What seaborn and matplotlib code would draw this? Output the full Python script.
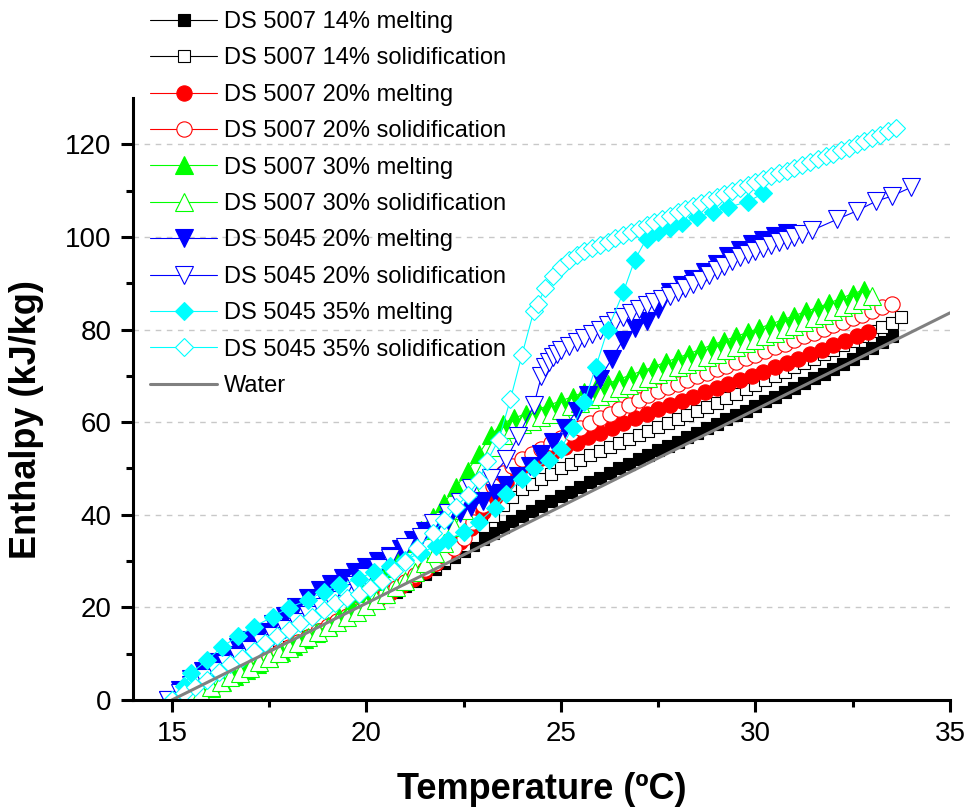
import matplotlib
matplotlib.use("Agg")
import matplotlib.pyplot as plt
import seaborn as sns

# shared temperature grid (0.25 degC steps)
t_grid = [15.25, 15.5, 15.75, 16.0, 16.25, 16.5, 16.75, 17.0, 17.25, 17.5,
          17.75, 18.0, 18.25, 18.5, 18.75, 19.0, 19.25, 19.5, 19.75, 20.0,
          20.25, 20.5, 20.75, 21.0, 21.25, 21.5, 21.75, 22.0, 22.25, 22.5,
          22.75, 23.0, 23.25, 23.5, 23.75, 24.0, 24.25, 24.5, 24.75, 25.0,
          25.25, 25.5, 25.75, 26.0, 26.25, 26.5, 26.75, 27.0, 27.25, 27.5,
          27.75, 28.0, 28.25, 28.5, 28.75, 29.0, 29.25, 29.5, 29.75, 30.0,
          30.25, 30.5, 30.75, 31.0, 31.25, 31.5, 31.75, 32.0, 32.25, 32.5,
          32.75, 33.0, 33.25, 33.5]

# DS 5007 14% melting
t_5007_14_mel = t_grid
h_5007_14_mel = [0.0, 0.9, 1.9, 2.8, 3.9, 4.9, 6.0, 7.0, 8.1, 9.1,
                 10.2, 11.3, 12.4, 13.4, 14.5, 15.6, 16.7, 17.8, 18.9, 20.0,
                 21.1, 22.3, 23.4, 24.6, 25.8, 27.1, 28.3, 29.6, 30.9, 32.2,
                 33.5, 34.8, 36.1, 37.3, 38.6, 39.8, 40.9, 41.9, 43.0, 44.0,
                 45.0, 46.0, 47.0, 48.0, 49.0, 50.0, 51.0, 52.0, 52.9, 53.9,
                 54.8, 55.8, 56.8, 57.7, 58.7, 59.6, 60.6, 61.6, 62.5, 63.5,
                 64.5, 65.5, 66.4, 67.4, 68.4, 69.5, 70.5, 71.5, 72.6, 73.7,
                 74.9, 76.0, 77.3, 78.5]

# DS 5007 14% solidification
t_5007_14_sol = t_grid + [33.75]
h_5007_14_sol = [0.0, 0.9, 2.0, 3.0, 4.0, 5.1, 6.2, 7.2, 8.3, 9.4,
                 10.4, 11.5, 12.6, 13.7, 14.7, 15.8, 16.9, 18.0, 19.1, 20.2,
                 21.4, 22.6, 23.8, 25.0, 26.3, 27.6, 28.9, 30.2, 31.8, 33.5,
                 35.5, 37.5, 39.8, 42.0, 43.9, 45.5, 46.7, 47.8, 48.9, 50.0,
                 51.0, 51.9, 52.9, 53.8, 54.7, 55.5, 56.4, 57.2, 58.1, 58.9,
                 59.8, 60.6, 61.5, 62.4, 63.3, 64.2, 65.2, 66.1, 67.1, 68.0,
                 69.0, 69.9, 70.9, 71.8, 72.8, 73.7, 74.7, 75.6, 76.6, 77.6,
                 78.6, 79.6, 80.5, 81.5, 82.6]

# DS 5007 20% melting
t_5007_20_mel = [15.2, 15.5, 15.8, 16.1, 16.4, 16.7, 17.0, 17.3, 17.6, 17.9,
                 18.2, 18.5, 18.8, 19.1, 19.4, 19.7, 20.0, 20.3, 20.6, 20.9,
                 21.2, 21.5, 21.8, 22.1, 22.4, 22.7, 23.0, 23.3, 23.6, 23.9,
                 24.2, 24.5, 24.8, 25.1, 25.4, 25.7, 26.0, 26.3, 26.6, 26.9,
                 27.2, 27.5, 27.8, 28.1, 28.4, 28.7, 29.0, 29.3, 29.6, 29.9,
                 30.2, 30.5, 30.8, 31.1, 31.4, 31.7, 32.0, 32.3, 32.6, 32.9]
h_5007_20_mel = [0.0, 0.8, 2.0, 3.2, 4.5, 5.7, 7.0, 8.3, 9.6, 10.9,
                 12.2, 13.5, 14.8, 16.2, 17.5, 18.9, 20.3, 21.8, 23.2, 24.7,
                 26.2, 27.8, 29.6, 31.6, 34.1, 37.2, 40.5, 43.8, 46.8, 49.2,
                 50.8, 52.3, 53.5, 54.6, 55.6, 56.7, 57.7, 58.7, 59.8, 60.8,
                 61.8, 62.8, 63.7, 64.6, 65.5, 66.4, 67.3, 68.2, 69.1, 70.0,
                 70.9, 71.8, 72.8, 73.7, 74.7, 75.6, 76.6, 77.5, 78.5, 79.4]

# DS 5007 20% solidification
t_5007_20_sol = t_grid
h_5007_20_sol = [0.0, 1.0, 2.0, 3.0, 4.1, 5.1, 6.2, 7.2, 8.3, 9.4,
                 10.4, 11.5, 12.6, 13.7, 14.8, 15.9, 17.0, 18.2, 19.3, 20.5,
                 21.7, 23.0, 24.2, 25.5, 26.9, 28.2, 29.6, 31.0, 32.9, 35.0,
                 38.5, 42.0, 46.2, 49.0, 50.6, 52.0, 53.2, 54.3, 55.4, 56.5,
                 57.6, 58.7, 59.8, 60.8, 61.8, 62.8, 63.8, 64.8, 65.8, 66.8,
                 67.6, 68.3, 69.1, 69.9, 70.6, 71.4, 72.2, 73.0, 73.8, 74.6,
                 75.4, 76.2, 76.9, 77.7, 78.5, 79.3, 80.1, 80.9, 81.6, 82.4,
                 83.2, 84.0, 84.8, 85.6]

# DS 5007 30% melting
t_5007_30_mel = [15.4, 15.7, 16.0, 16.3, 16.6, 16.9, 17.2, 17.5, 17.8, 18.1,
                 18.4, 18.7, 19.0, 19.3, 19.6, 19.9, 20.2, 20.5, 20.8, 21.1,
                 21.4, 21.7, 22.0, 22.3, 22.6, 22.9, 23.2, 23.5, 23.8, 24.1,
                 24.4, 24.7, 25.0, 25.3, 25.6, 25.9, 26.2, 26.5, 26.8, 27.1,
                 27.4, 27.7, 28.0, 28.3, 28.6, 28.9, 29.2, 29.5, 29.8, 30.1,
                 30.4, 30.7, 31.0, 31.3, 31.6, 31.9, 32.2, 32.5, 32.8]
h_5007_30_mel = [0.0, 1.2, 2.5, 3.8, 5.1, 6.4, 7.7, 9.0, 10.3, 11.7,
                 13.1, 14.5, 16.0, 18.0, 20.4, 23.1, 25.8, 28.5, 31.2, 33.9,
                 36.6, 39.5, 42.6, 45.9, 49.5, 53.2, 57.2, 59.7, 60.9, 61.8,
                 62.7, 63.7, 64.6, 65.5, 66.5, 67.4, 68.3, 69.3, 70.2, 71.1,
                 72.0, 73.0, 73.9, 74.8, 75.8, 76.7, 77.6, 78.5, 79.4, 80.3,
                 81.2, 82.1, 83.0, 83.9, 84.8, 85.7, 86.8, 87.7, 88.6]

# DS 5007 30% solidification
t_5007_30_sol = t_grid[:72]
h_5007_30_sol = [0.0, 0.9, 1.8, 2.8, 3.8, 4.9, 5.9, 7.0, 8.1, 9.1,
                 10.2, 11.3, 12.4, 13.5, 14.6, 15.7, 16.8, 18.0, 19.1, 20.3,
                 21.5, 22.8, 24.3, 25.8, 27.6, 29.5, 31.7, 34.0, 37.3, 41.0,
                 45.5, 50.0, 54.6, 57.3, 58.6, 59.5, 60.3, 61.1, 61.8, 62.6,
                 63.4, 64.2, 64.9, 65.7, 66.5, 67.3, 68.0, 68.8, 69.6, 70.3,
                 71.1, 71.8, 72.6, 73.3, 74.1, 74.8, 75.6, 76.3, 77.1, 77.8,
                 78.6, 79.3, 80.1, 80.8, 81.6, 82.4, 83.2, 84.0, 84.8, 85.6,
                 86.4, 87.2]

# DS 5045 20% melting
t_5045_20_mel = [14.9, 15.2, 15.5, 15.8, 16.1, 16.4, 16.7, 17.0, 17.3, 17.6,
                 17.9, 18.2, 18.5, 18.8, 19.1, 19.4, 19.7, 20.0, 20.3, 20.6,
                 20.9, 21.2, 21.5, 21.8, 22.1, 22.4, 22.7, 23.0, 23.3, 23.6,
                 23.9, 24.2, 24.5, 24.8, 25.1, 25.4, 25.7, 26.0, 26.3, 26.6,
                 26.9, 27.2, 27.5, 27.8, 28.1, 28.4, 28.7, 29.0, 29.3, 29.6,
                 29.9, 30.2, 30.5, 30.8]
h_5045_20_mel = [0.0, 2.2, 4.5, 6.3, 8.1, 9.8, 11.4, 13.0, 14.7, 16.4,
                 18.2, 20.1, 22.0, 23.7, 25.1, 26.4, 27.6, 28.8, 30.0, 31.2,
                 32.6, 34.6, 36.5, 37.8, 38.9, 40.3, 41.7, 43.0, 44.6, 46.4,
                 48.3, 50.6, 53.2, 55.7, 58.8, 62.4, 65.9, 69.4, 73.6, 77.8,
                 80.3, 81.8, 84.5, 88.0, 89.6, 91.0, 92.5, 94.2, 95.8, 97.2,
                 98.5, 99.4, 100.2, 100.9]

# DS 5045 20% solidification
t_5045_20_sol = [14.9, 15.2, 15.5, 15.8, 16.1, 16.4, 16.7, 17.0, 17.3, 17.6,
                 17.9, 18.2, 18.5, 18.8, 19.1, 19.4, 19.7, 20.0, 20.3, 20.6,
                 21.0, 21.4, 21.7, 22.1, 22.4, 22.7, 23.2, 23.6, 23.9, 24.3,
                 24.5, 24.6, 24.7, 24.8, 24.9, 25.0, 25.2, 25.4, 25.6, 25.8,
                 26.0, 26.2, 26.4, 26.6, 26.8, 27.0, 27.2, 27.4, 27.6, 27.8,
                 28.0, 28.2, 28.4, 28.6, 28.8, 29.0, 29.2, 29.4, 29.6, 29.8,
                 30.0, 30.2, 30.4, 30.6, 30.8, 31.0, 31.2, 31.45, 32.1, 32.6,
                 33.1, 33.5, 34.0]
h_5045_20_sol = [0.0, 1.6, 3.2, 4.7, 6.2, 7.7, 9.2, 10.7, 12.2, 13.8,
                 15.3, 16.9, 18.4, 20.0, 21.6, 23.2, 24.8, 26.5, 28.5, 30.6,
                 33.1, 35.3, 38.2, 40.4, 42.8, 45.8, 48.0, 52.0, 56.9, 63.6,
                 70.0, 72.0, 73.0, 74.0, 74.8, 75.5, 76.4, 77.3, 78.2, 79.1,
                 80.0, 80.9, 81.8, 82.7, 83.6, 84.5, 85.2, 85.9, 86.6, 87.3,
                 88.0, 88.9, 89.8, 90.8, 91.8, 92.8, 93.8, 94.8, 95.6, 96.3,
                 97.0, 97.6, 98.2, 98.8, 99.4, 100.0, 100.6, 101.4, 103.8, 105.6,
                 107.7, 108.8, 110.7]

# DS 5045 35% melting
t_5045_35_mel = [15.0, 15.3, 15.5, 15.9, 16.3, 16.7, 17.1, 17.6, 18.0, 18.5,
                 18.9, 19.3, 19.8, 20.2, 20.6, 21.0, 21.4, 21.8, 22.1, 22.5,
                 22.9, 23.3, 23.6, 24.0, 24.3, 24.7, 25.0, 25.3, 25.6, 25.9,
                 26.2, 26.6, 26.9, 27.2, 27.5, 27.8, 28.1, 28.5, 28.9, 29.3,
                 29.8, 30.2]
h_5045_35_mel = [0.0, 3.0, 5.8, 8.6, 11.5, 13.8, 15.8, 18.0, 19.9, 21.6,
                 23.4, 24.9, 26.2, 27.7, 29.0, 30.3, 31.8, 33.3, 34.6, 36.3,
                 38.5, 41.5, 44.5, 47.8, 50.0, 51.8, 54.3, 58.8, 64.4, 72.0,
                 80.0, 88.0, 95.1, 99.6, 101.0, 102.0, 103.0, 104.2, 105.3, 106.4,
                 107.6, 109.4]

# DS 5045 35% solidification
t_5045_35_sol = [15.0, 15.3, 15.6, 15.9, 16.2, 16.5, 16.8, 17.1, 17.4, 17.7,
                 18.0, 18.3, 18.6, 18.9, 19.2, 19.5, 19.8, 20.1, 20.4, 20.7,
                 21.0, 21.3, 21.7, 22.0, 22.3, 22.6, 22.9, 23.1, 23.4, 23.7,
                 24.0, 24.3, 24.4, 24.6, 24.8, 25.0, 25.2, 25.4, 25.6, 25.8,
                 26.0, 26.2, 26.4, 26.6, 26.8, 27.0, 27.2, 27.4, 27.6, 27.8,
                 28.0, 28.2, 28.4, 28.6, 28.8, 29.0, 29.2, 29.4, 29.6, 29.8,
                 30.0, 30.2, 30.4, 30.6, 30.8, 31.0, 31.2, 31.4, 31.6, 31.8,
                 32.0, 32.2, 32.4, 32.6, 32.8, 33.0, 33.2, 33.4, 33.6]
h_5045_35_sol = [0.0, 1.5, 2.9, 4.3, 6.1, 7.7, 9.1, 10.6, 12.4, 13.9,
                 15.1, 16.6, 18.0, 19.5, 21.0, 22.0, 22.9, 24.2, 25.8, 27.8,
                 29.8, 32.8, 36.0, 38.9, 41.7, 44.2, 47.5, 51.5, 56.2, 64.9,
                 74.6, 83.9, 85.6, 88.9, 91.6, 93.6, 95.0, 96.0, 96.9, 97.6,
                 98.3, 99.0, 99.7, 100.4, 101.1, 101.8, 102.5, 103.2, 103.9, 104.6,
                 105.3, 106.0, 106.7, 107.4, 108.0, 108.7, 109.3, 110.0, 110.6, 111.3,
                 111.9, 112.5, 113.1, 113.7, 114.3, 114.9, 115.6, 116.2, 116.8, 117.4,
                 118.0, 118.7, 119.3, 120.0, 120.7, 121.4, 122.1, 122.8, 123.6]

# Water reference
t_water = [15.0, 35.0]
h_water = [0.0, 83.6]

# label, T, H, colour, marker, marker size, filled
series = [
    ("DS 5007 14% melting", t_5007_14_mel, h_5007_14_mel, "black", "s", 8.4, True),
    ("DS 5007 14% solidification", t_5007_14_sol, h_5007_14_sol, "black", "s", 8.4, False),
    ("DS 5007 20% melting", t_5007_20_mel, h_5007_20_mel, "#ff0000", "o", 11, True),
    ("DS 5007 20% solidification", t_5007_20_sol, h_5007_20_sol, "#ff0000", "o", 11, False),
    ("DS 5007 30% melting", t_5007_30_mel, h_5007_30_mel, "#00ff00", "^", 12.5, True),
    ("DS 5007 30% solidification", t_5007_30_sol, h_5007_30_sol, "#00ff00", "^", 12.5, False),
    ("DS 5045 20% melting", t_5045_20_mel, h_5045_20_mel, "#0000ff", "v", 12.5, True),
    ("DS 5045 20% solidification", t_5045_20_sol, h_5045_20_sol, "#0000ff", "v", 12.5, False),
    ("DS 5045 35% melting", t_5045_35_mel, h_5045_35_mel, "#00ffff", "D", 9.2, True),
    ("DS 5045 35% solidification", t_5045_35_sol, h_5045_35_sol, "#00ffff", "D", 9.2, False),
]

sns.set_style("ticks", rc={"axes.edgecolor": "black", "text.color": "black",
                           "axes.labelcolor": "black", "xtick.color": "black",
                           "ytick.color": "black"})
plt.rcParams["font.family"] = ["Liberation Sans", "DejaVu Sans"]

fig, ax = plt.subplots(figsize=(9.68, 8.07), dpi=100)
fig.subplots_adjust(left=0.1374, right=0.9814, bottom=0.1326, top=0.8786)

for label, t, h, color, marker, ms, filled in series:
    sns.lineplot(x=t, y=h, ax=ax, color=color, linewidth=0.8,
                 marker=marker, markersize=ms,
                 markerfacecolor=color if filled else "white",
                 markeredgecolor=color, markeredgewidth=0.8,
                 estimator=None, label=label)

sns.lineplot(x=t_water, y=h_water, ax=ax, color="#808080", linewidth=2.2,
             estimator=None, label="Water")

ax.set_xlim(14, 35)
ax.set_ylim(0, 130)
ax.set_xticks([15, 20, 25, 30, 35])
ax.set_xticks([17.5, 22.5, 27.5, 32.5], minor=True)
ax.set_yticks([0, 20, 40, 60, 80, 100, 120])
ax.set_yticks([10, 30, 50, 70, 90, 110], minor=True)

ax.yaxis.grid(True, which="major", linestyle=(0, (4, 4)), color="#c8c8c8", linewidth=1)
ax.xaxis.grid(False)
ax.set_axisbelow(True)

sns.despine(ax=ax)
for side in ["left", "bottom"]:
    ax.spines[side].set_linewidth(2.2)
ax.tick_params(which="major", direction="out", length=8.4, width=2.2, labelsize=20, pad=7)
ax.tick_params(which="minor", direction="out", length=4.8, width=2.2)

ax.set_xlabel("Temperature (ºC)", fontsize=26, fontweight="bold", labelpad=18)
ax.set_ylabel("Enthalpy (kJ/kg)", fontsize=26, fontweight="bold")
ax.yaxis.set_label_coords(-0.109, 0.465)

handles, labels = ax.get_legend_handles_labels()
ax.get_legend().remove()
fig.legend(handles, labels, loc="upper left", bbox_to_anchor=(150 / 968, 1 - 11 / 807),
           frameon=False, fontsize=17, handlelength=2.84, handletextpad=0.3,
           labelspacing=0.61, borderpad=0, borderaxespad=0, numpoints=1)

fig.savefig("out.png", dpi=100)
